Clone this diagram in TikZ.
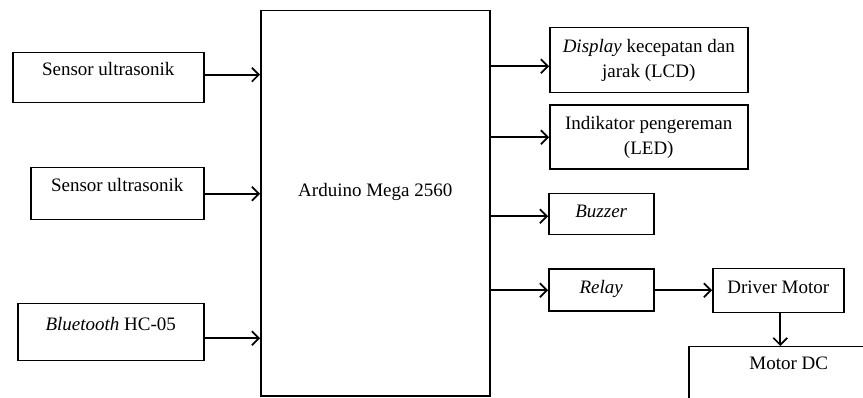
\documentclass[tikz,border=0pt]{standalone}
\usepackage{fontspec}
\setmainfont{Liberation Serif}
\usepackage{tikz}
\usetikzlibrary{arrows.meta,positioning}

\begin{document}
\begin{tikzpicture}[x=1pt,y=-1pt,font=\fontsize{19}{25}\selectfont,
  >={Straight Barb[length=7pt,width=14pt]},
  blk/.style={draw,line width=1.5pt,inner sep=0pt,align=center,anchor=north west},
  inblk/.style={blk,text height=13pt,text depth=17pt},
  outblk/.style={blk},
  oneblk/.style={blk,text height=13pt,text depth=7pt},
  mcu/.style={draw,line width=1.5pt,inner sep=0pt,anchor=north west,text height=13pt,text depth=26pt},
  link/.style={->,line width=1.6pt}]

  \useasboundingbox (0,0) rectangle (863,398);
  \clip (0,0) rectangle (863,398);

  % ---------- controller ----------
  \node[mcu,minimum width=229pt,minimum height=385pt] (ard) at (260,10) {Arduino Mega 2560};

  % ---------- inputs ----------
  \node[inblk,minimum width=191pt,minimum height=50pt] (sen1) at (12,52) {Sensor ultrasonik};
  \node[inblk,minimum width=173pt,minimum height=52pt] (sen2) at (30,167) {Sensor ultrasonik};
  \node[inblk,minimum width=186pt,minimum height=57pt] (bt) at (17,303) {\textit{Bluetooth} HC-05};

  % ---------- outputs ----------
  \node[outblk,minimum width=198pt,minimum height=65pt] (lcd) at (549,27)
    {\textit{Display} kecepatan dan\\jarak (LCD)};
  \node[outblk,minimum width=198pt,minimum height=64pt,below=11pt of lcd.south west,anchor=north west] (led)
    {Indikator pengereman\\(LED)};
  \node[oneblk,minimum width=105pt,minimum height=41pt] (buz) at (548,193) {\textit{Buzzer}};
  \node[oneblk,minimum width=105pt,minimum height=42pt,below=33pt of buz.south west,anchor=north west] (rly)
    {\textit{Relay}};
  \node[oneblk,minimum width=131pt,minimum height=44pt] (drv) at (712,268) {Driver Motor};
  \node[blk,minimum width=200pt,minimum height=80pt,text height=13pt,text depth=47pt] (mdc) at (688,346)
    {Motor DC};

  % ---------- arrows ----------
  \draw[link] ([yshift=3pt]sen1.east) -- ([yshift=3pt]sen1.east -| ard.west);
  \draw[link] (sen2.east) -- (sen2.east -| ard.west);
  \draw[link] ([yshift=-6pt]bt.east) -- ([yshift=-6pt]bt.east -| ard.west);

  \draw[link] ([yshift=-6pt]lcd.west -| ard.east) -- ([yshift=-6pt]lcd.west);
  \draw[link] (led.west -| ard.east) -- (led.west);
  \draw[link] ([yshift=-2pt]buz.west -| ard.east) -- ([yshift=-2pt]buz.west);
  \draw[link] (rly.west -| ard.east) -- (rly.west);
  \draw[link] (rly.east) -- (rly.east -| drv.west);
  \draw[link] ([xshift=2pt]drv.south) -- ([xshift=2pt]drv.south |- mdc.north);
\end{tikzpicture}
\end{document}
